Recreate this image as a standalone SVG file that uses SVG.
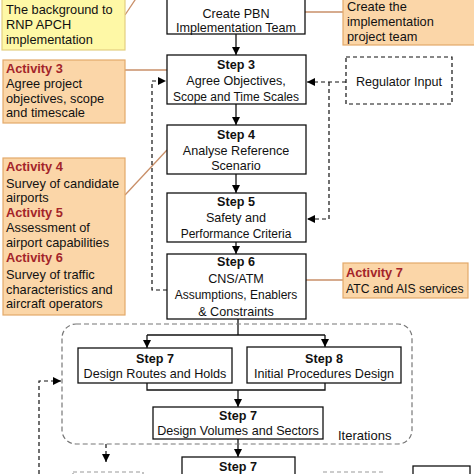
<svg xmlns="http://www.w3.org/2000/svg" width="474" height="474" viewBox="0 0 474 474">
<defs>
<marker id="arr" markerUnits="userSpaceOnUse" markerWidth="9" markerHeight="9" refX="8" refY="4" orient="auto">
<path d="M0,0 L8,4 L0,8 z" fill="#000"/>
</marker>
<style>
text{font-family:"Liberation Sans",Arial,sans-serif;fill:#111}
.box{fill:#fff;stroke:#111;stroke-width:1.3}
.t{font-size:12px;text-anchor:middle}
.t2{font-size:12.6px;text-anchor:middle}
.b{font-weight:bold}
.act{fill:#FBD6A8;stroke:#E3A96A;stroke-width:1.2}
.yel{fill:#FEF8A6;stroke:#E3CF80;stroke-width:1.2}
.at{font-size:12.8px}
.ah{font-size:12.8px;font-weight:bold;fill:#A3242A}
.lnk{fill:none;stroke:#C98F68;stroke-width:1.3}
.con{fill:none;stroke:#111;stroke-width:1.3}
.dash{fill:none;stroke:#111;stroke-width:1.2;stroke-dasharray:4,3}
.gdash{fill:none;stroke:#999;stroke-width:1.2;stroke-dasharray:4,3}
</style>
</defs>

<g id="connectors">
<line class="lnk" x1="125" y1="15" x2="137" y2="-3"/>
<line class="lnk" x1="305" y1="12" x2="343" y2="12"/>
<line class="lnk" x1="125" y1="70" x2="167" y2="70"/>
<line class="lnk" x1="125" y1="195" x2="167" y2="150"/>
<line class="lnk" x1="306" y1="280" x2="343" y2="280"/>
<line class="con" x1="236" y1="34" x2="236" y2="55" marker-end="url(#arr)"/>
<line class="con" x1="236" y1="104" x2="236" y2="125" marker-end="url(#arr)"/>
<line class="con" x1="236" y1="174" x2="236" y2="193" marker-end="url(#arr)"/>
<line class="con" x1="236" y1="242" x2="236" y2="254" marker-end="url(#arr)"/>
<path class="con" d="M238,319 V335"/>
<path class="con" d="M147,335 H325"/>
<line class="con" x1="147" y1="335" x2="147" y2="348" marker-end="url(#arr)"/>
<line class="con" x1="325" y1="335" x2="325" y2="347" marker-end="url(#arr)"/>
<path class="con" d="M147,383 V390 H325 V383"/>
<line class="con" x1="238" y1="390" x2="238" y2="407" marker-end="url(#arr)"/>
<line class="con" x1="238" y1="439" x2="238" y2="457" marker-end="url(#arr)"/>
<path class="dash" d="M167,290 H152 V81 H166" marker-end="url(#arr)"/>
<path class="dash" d="M346,82 H307" marker-end="url(#arr)"/>
<path class="dash" d="M329,82 V219 H307" marker-end="url(#arr)"/>
<path class="dash" d="M39,474 V381 H61" marker-end="url(#arr)"/>
<path class="dash" d="M106,444 V462" marker-end="url(#arr)"/>
</g>

<g id="iterations">
<rect x="62" y="324" width="350" height="120" rx="14" fill="none" stroke="#777" stroke-width="1.2" stroke-dasharray="5,3"/>
<text x="338" y="440" font-size="13">Iterations</text>
</g>

<g id="bg">
<rect class="yel" x="2" y="-10" width="123" height="60"/>
<text class="at" x="6" y="14">The background to</text>
<text class="at" x="6" y="29">RNP APCH</text>
<text class="at" x="6" y="44">implementation</text>
</g>

<g id="team">
<rect class="act" x="343" y="-10" width="136" height="55"/>
<text class="at" x="347" y="11">Create the</text>
<text class="at" x="347" y="26">implementation</text>
<text class="at" x="347" y="41">project team</text>
</g>

<g id="step2">
<rect class="box" x="167" y="-10" width="138" height="44"/>
<text class="t2" x="236" y="18">Create PBN</text>
<text class="t2" x="236" y="32">Implementation Team</text>
</g>

<g id="step3">
<rect class="box" x="167" y="55" width="139" height="49"/>
<text class="t2 b" x="236" y="69">Step 3</text>
<text class="t2" x="236" y="85">Agree Objectives,</text>
<text class="t" x="236" y="101">Scope and Time Scales</text>
</g>

<g id="regulator">
<rect class="dash" x="346" y="57" width="106" height="47"/>
<text class="t2" x="399" y="86">Regulator Input</text>
</g>

<g id="activity3">
<rect class="act" x="3" y="60" width="122" height="63"/>
<text class="ah" x="6" y="73">Activity 3</text>
<text class="at" x="6" y="88">Agree project</text>
<text class="at" x="6" y="103">objectives, scope</text>
<text class="at" x="6" y="117">and timescale</text>
</g>

<g id="step4">
<rect class="box" x="167" y="125" width="139" height="49"/>
<text class="t2 b" x="236" y="139">Step 4</text>
<text class="t2" x="236" y="155">Analyse Reference</text>
<text class="t2" x="236" y="170">Scenario</text>
</g>

<g id="activity456">
<rect class="act" x="3" y="158" width="122" height="157"/>
<text class="ah" x="6" y="171">Activity 4</text>
<text class="at" x="6" y="188">Survey of candidate</text>
<text class="at" x="6" y="202">airports</text>
<text class="ah" x="6" y="217">Activity 5</text>
<text class="at" x="6" y="232">Assessment of</text>
<text class="at" x="6" y="247">airport capabilities</text>
<text class="ah" x="6" y="262">Activity 6</text>
<text class="at" x="6" y="279">Survey of traffic</text>
<text class="at" x="6" y="294">characteristics and</text>
<text class="at" x="6" y="308">aircraft operators</text>
</g>

<g id="step5">
<rect class="box" x="167" y="193" width="139" height="49"/>
<text class="t2 b" x="236" y="206">Step 5</text>
<text class="t2" x="236" y="222">Safety and</text>
<text class="t" x="236" y="238">Performance Criteria</text>
</g>

<g id="step6">
<rect class="box" x="167" y="254" width="139" height="65"/>
<text class="t2 b" x="236" y="266">Step 6</text>
<text class="t2" x="236" y="283">CNS/ATM</text>
<text class="t" x="236" y="299">Assumptions, Enablers</text>
<text class="t2" x="236" y="316">&amp; Constraints</text>
</g>

<g id="activity7">
<rect class="act" x="343" y="263" width="125" height="35"/>
<text class="ah" x="346" y="277">Activity 7</text>
<text x="346" y="293" font-size="12.2">ATC and AIS services</text>
</g>

<g id="step7a">
<rect class="box" x="78" y="348" width="154" height="35"/>
<text class="t2 b" x="155" y="363">Step 7</text>
<text class="t2" x="155" y="378">Design Routes and Holds</text>
</g>

<g id="step8">
<rect class="box" x="247" y="347" width="154" height="36"/>
<text class="t2 b" x="324" y="363">Step 8</text>
<text class="t2" x="324" y="378">Initial Procedures Design</text>
</g>

<g id="step7b">
<rect class="box" x="153" y="407" width="170" height="32"/>
<text class="t2 b" x="238" y="420">Step 7</text>
<text class="t2" x="238" y="435">Design Volumes and Sectors</text>
</g>

<g id="step7c">
<rect class="box" x="182" y="457" width="113" height="30"/>
<text class="t2 b" x="238" y="471">Step 7</text>
</g>

<g id="bottom-left">
<rect class="gdash" x="73" y="472" width="70" height="20"/>
</g>
<g id="bottom-mid">
<rect class="gdash" x="323" y="472" width="60" height="20"/>
</g>
<g id="bottom-right">
<rect class="box" x="413" y="466" width="57" height="20"/>
</g>
</svg>
